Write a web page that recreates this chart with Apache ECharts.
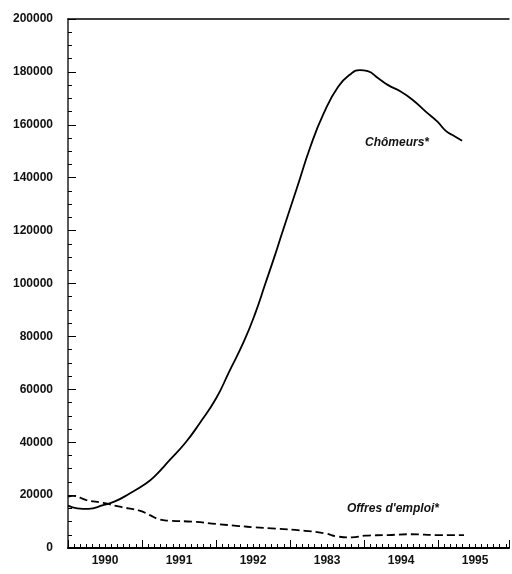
<!DOCTYPE html>
<html>
<head>
<meta charset="utf-8">
<script src="https://cdn.jsdelivr.net/npm/echarts@6/dist/echarts.min.js"></script>
<style>html,body{margin:0;padding:0;background:#fff}#c{width:512px;height:574px}</style>
</head>
<body>
<div id="c"></div>
<script>
// months since January 1990
const chomeursMonths = [0, 1.5, 3.3, 5.7, 7.6, 10, 12.7, 14, 16.4, 19.1, 21.3, 24, 26.1, 28.5, 30.4, 32, 33.6, 34.7, 37.1, 39.3, 41.4, 43.8, 46, 47.3, 48.6, 50.3, 51.9, 54, 55.9, 58, 59.9, 61.3, 62.6, 63.9];
const chomeursValues = [16000, 15000, 14800, 16200, 17600, 20600, 24500, 27000, 33000, 40000, 47000, 56500, 66500, 78000, 89000, 100000, 111000, 119000, 136000, 151700, 164000, 174400, 179500, 180700, 180300, 177600, 175000, 172500, 169400, 165000, 161200, 157600, 155800, 154000];
const offresMonths = [0, 0.8, 3, 5.7, 8.4, 11.6, 13.2, 14.8, 16.4, 20.2, 24, 27.7, 30.4, 33, 38.4, 41.7, 43.8, 46, 48.1, 51.9, 55.6, 59.9, 64.2];
const offresValues = [19400, 19700, 18100, 17100, 15600, 14100, 12500, 10800, 10300, 9950, 9100, 8300, 7800, 7400, 6500, 5500, 4300, 4000, 4650, 4900, 5200, 4900, 4900];
const yearLabels = ['1990', '1991', '1992', '1983', '1994', '1995'];
const seriesNames = ['Chômeurs*', "Offres d'emploi*"];

const zip = (xs, ys) => xs.map((x, i) => [x, ys[i]]);
const font = '"Liberation Sans", Arial, sans-serif';
const chart = echarts.init(document.getElementById('c'));
chart.setOption({
  animation: false,
  backgroundColor: '#fff',
  grid: { left: 68, right: 0, top: 19, bottom: 26 },
  xAxis: [
    { type: 'value', min: 0, max: 71.5, interval: 12, position: 'bottom',
      axisLine: { show: true, lineStyle: { color: '#000', width: 2 } },
      axisTick: { show: true, inside: true, length: 8, lineStyle: { color: '#000', width: 1 } },
      minorTick: { show: true, splitNumber: 12, length: 4, lineStyle: { color: '#000', width: 1 } },
      axisLabel: { show: false }, splitLine: { show: false } },
    { type: 'value', min: 0, max: 71.5, interval: 6, position: 'bottom',
      axisLine: { show: false }, axisTick: { show: false }, splitLine: { show: false },
      axisLabel: { show: true, margin: 7, color: '#111', fontFamily: font, fontSize: 12, fontWeight: 'bold',
        formatter: v => (v % 12 === 6 ? yearLabels[(v - 6) / 12] : '') } },
    { type: 'value', min: 0, max: 71.5, position: 'top',
      axisLine: { show: true, lineStyle: { color: '#000', width: 1.5 } },
      axisTick: { show: false }, axisLabel: { show: false }, splitLine: { show: false } }
  ],
  yAxis: {
    type: 'value', min: 0, max: 200000, interval: 20000,
    axisLine: { show: true, lineStyle: { color: '#222', width: 1.5 } },
    axisTick: { show: true, inside: true, length: 8, lineStyle: { color: '#000', width: 1 } },
    minorTick: { show: true, splitNumber: 4, length: 4, lineStyle: { color: '#000', width: 1 } },
    splitLine: { show: false },
    axisLabel: { margin: 15, color: '#111', fontFamily: font, fontSize: 12, fontWeight: 'bold',
      formatter: v => String(v) }
  },
  series: [
    { name: seriesNames[0], type: 'line', xAxisIndex: 0, data: zip(chomeursMonths, chomeursValues),
      smooth: 0.5, showSymbol: false, lineStyle: { color: '#000', width: 1.8 } },
    { name: seriesNames[1], type: 'line', xAxisIndex: 0, data: zip(offresMonths, offresValues),
      smooth: 0.5, showSymbol: false, lineStyle: { color: '#000', width: 1.8, type: [8, 4] } }
  ],
  graphic: [
    { type: 'text', left: 365, top: 137, style: { text: seriesNames[0], font: 'italic bold 12px ' + font, fill: '#111' } },
    { type: 'text', left: 347, top: 503, style: { text: seriesNames[1], font: 'italic bold 12px ' + font, fill: '#111' } }
  ]
});
</script>
</body>
</html>
